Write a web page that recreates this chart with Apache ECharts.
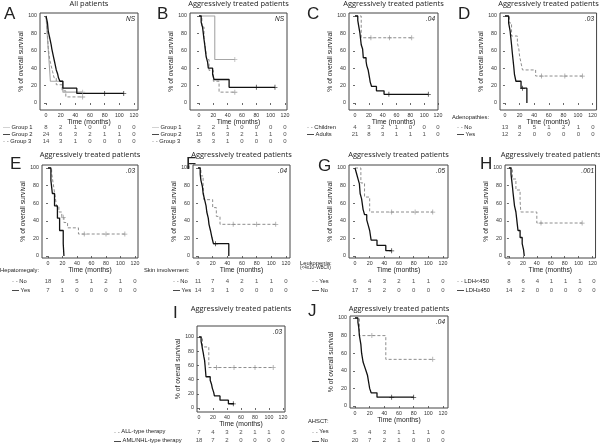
<!DOCTYPE html>
<html><head><meta charset="utf-8">
<script src="https://cdn.jsdelivr.net/npm/echarts@6/dist/echarts.min.js"></script>
<style>html,body{margin:0;padding:0;background:#fff}#c{width:600px;height:445px}</style>
</head><body><div id="c"></div>
<script>
const xTicks=[0,20,40,60,80,100,120];
const yTicks=[0,20,40,60,80,100];
const riskTimes=[0,20,40,60,80,100,120];

// Panel A – all patients
const A_group1=[[0,100],[1,87.5],[2,75],[3,62.5],[4,50],[5,37.5],[6,25],[23,12.5],[50,12.5]];
const A_group1_cens=[[50,12.5]];
const A_group1_risk=[8,2,1,0,0,0,0];
const A_group2=[[0,100],[1,96],[2,92],[3,83],[4,79],[5,75],[6,71],[7,67],[8,62],[9,58],[10,54],[11,50],[12,46],[13,42],[14,38],[16,33],[17,29],[19,25],[23,17],[42,11],[106,11]];
const A_group2_cens=[[80,11],[106,11]];
const A_group2_risk=[24,6,3,2,1,1,0];
const A_group3=[[0,100],[1,93],[2,79],[3,64],[4,57],[5,50],[7,43],[9,36],[11,29],[14,21],[22,14],[27,7],[50,7]];
const A_group3_cens=[[50,7]];
const A_group3_risk=[14,3,1,0,0,0,0];
// Panel B
const B_group1=[[0,100],[22,50],[50,50]];
const B_group1_cens=[[50,50]];
const B_group1_risk=[2,2,1,0,0,0,0];
const B_group2=[[0,100],[3,93],[5,87],[6,80],[7,73],[8,67],[9,60],[10,53],[12,47],[13,40],[19,33],[21,27],[42,18],[106,18]];
const B_group2_cens=[[80,18],[106,18]];
const B_group2_risk=[15,6,3,2,1,1,0];
const B_group3=[[0,100],[4,87.5],[7,75],[9,62.5],[11,50],[14,37.5],[20,25],[28,12.5],[50,12.5]];
const B_group3_cens=[[50,12.5]];
const B_group3_risk=[8,3,1,0,0,0,0];
// Panel C
const C_children=[[0,100],[9,75],[82,75]];
const C_children_cens=[[23,75],[50,75],[82,75]];
const C_children_risk=[4,3,2,1,0,0,0];
const C_adults=[[0,100],[4,95],[5,90],[7,81],[9,67],[11,62],[12,52],[16,48],[17,43],[19,38],[21,29],[22,24],[24,19],[31,14],[42,10],[106,10]];
const C_adults_cens=[[49,10],[106,10]];
const C_adults_risk=[21,8,3,1,1,1,0];
// Panel D
const D_no=[[0,100],[6,92],[9,77],[17,69],[19,62],[20,54],[22,46],[24,38],[42,31],[106,31]];
const D_no_cens=[[50,31],[82,31],[106,31]];
const D_no_risk=[13,8,5,1,2,1,0];
const D_yes=[[0,100],[5,92],[7,83],[8,75],[9,67],[10,58],[11,50],[12,42],[13,33],[15,25],[22,17],[30,0]];
const D_yes_cens=[[24,17]];
const D_yes_risk=[12,2,0,0,0,0,0];
// Panel E
const E_no=[[0,100],[5,94],[6,89],[7,83],[8,78],[9,72],[10,67],[11,61],[12,56],[15,50],[19,44],[22,38],[27,32],[42,25],[106,25]];
const E_no_cens=[[21,44],[50,25],[80,25],[106,25]];
const E_no_risk=[18,9,5,1,2,1,0];
const E_yes=[[0,100],[4,86],[6,71],[9,57],[13,43],[16,29],[21,14],[22,0]];
const E_yes_cens=[];
const E_yes_risk=[7,1,0,0,0,0,0];
// Panel F
const F_no=[[0,100],[4,91],[7,82],[8,64],[20,55],[25,45],[30,36],[106,36]];
const F_no_cens=[[48,36],[80,36],[106,36]];
const F_no_risk=[11,7,4,2,1,1,0];
const F_yes=[[0,100],[3,93],[4,86],[6,79],[7,71],[9,64],[11,57],[12,50],[14,43],[15,36],[17,29],[19,21],[21,14],[42,0]];
const F_yes_cens=[[24,14]];
const F_yes_risk=[14,3,1,0,0,0,0];
// Panel G
const G_yes=[[0,100],[8,83],[13,67],[20,50],[106,50]];
const G_yes_cens=[[50,50],[82,50],[106,50]];
const G_yes_risk=[6,4,3,2,1,1,0];
const G_no=[[0,100],[2,94],[4,88],[6,82],[7,71],[9,65],[10,59],[11,53],[13,47],[16,41],[18,35],[20,29],[22,18],[30,12],[42,6],[50,6]];
const G_no_cens=[[50,6]];
const G_no_risk=[17,5,2,0,0,0,0];
// Panel H
const H_low=[[0,100],[5,87.5],[10,75],[16,62.5],[17,50],[40,37.5],[105,37.5]];
const H_low_cens=[[46,37.5],[105,37.5]];
const H_low_risk=[8,6,4,1,1,1,0];
const H_high=[[0,100],[3,93],[4,86],[5,79],[6,71],[7,64],[8,57],[10,50],[11,43],[12,36],[13,29],[16,21],[19,14],[21,7],[22,0]];
const H_high_cens=[];
const H_high_risk=[14,2,0,0,0,0,0];
// Panel I
const I_all=[[0,100],[5,86],[14,57],[106,57]];
const I_all_cens=[[25,57],[50,57],[80,57],[106,57]];
const I_all_risk=[7,4,3,2,1,1,0];
const I_aml=[[0,100],[3,94],[4,89],[5,83],[6,78],[7,72],[8,67],[9,56],[10,44],[16,39],[18,33],[19,28],[21,22],[22,17],[30,11],[42,6],[50,6]];
const I_aml_cens=[[49,6]];
const I_aml_risk=[18,7,2,0,0,0,0];
// Panel J
const J_yes=[[0,100],[6,80],[42,53],[106,53]];
const J_yes_cens=[[23,80],[106,53]];
const J_yes_risk=[5,4,3,1,1,1,0];
const J_no=[[0,100],[4,95],[5,90],[6,80],[8,70],[9,60],[11,50],[13,45],[15,40],[17,35],[18,30],[19,25],[20,20],[22,15],[30,10],[80,10]];
const J_no_cens=[[50,10],[80,10]];
const J_no_risk=[20,7,2,1,0,0,0];

const AGG='Aggressively treated patients';
const panels=[
 {letter:'A',lx:4,ly:6,title:'All patients',p:'NS',box:[40,13,138,110],x0:46,x120:134,y100:16,y0:103,rows:[127,134,141],labelX:3,
  groups:[{label:'Group 1',st:'g',c:A_group1,z:A_group1_cens,r:A_group1_risk},{label:'Group 2',st:'k',c:A_group2,z:A_group2_cens,r:A_group2_risk},{label:'Group 3',st:'d',c:A_group3,z:A_group3_cens,r:A_group3_risk}]},
 {letter:'B',lx:157,ly:6,title:AGG,p:'NS',box:[190,13,287,110],x0:199,x120:285,y100:16,y0:103,rows:[127,134,141],labelX:152,
  groups:[{label:'Group 1',st:'g',c:B_group1,z:B_group1_cens,r:B_group1_risk},{label:'Group 2',st:'k',c:B_group2,z:B_group2_cens,r:B_group2_risk},{label:'Group 3',st:'d',c:B_group3,z:B_group3_cens,r:B_group3_risk}]},
 {letter:'C',lx:307,ly:6,title:AGG,p:'.04',box:[349,13,438,110],x0:355,x120:438,y100:16,y0:103,rows:[127,134],labelX:307,
  groups:[{label:'Children',st:'d',c:C_children,z:C_children_cens,r:C_children_risk},{label:'Adults',st:'k',c:C_adults,z:C_adults_cens,r:C_adults_risk}]},
 {letter:'D',lx:458,ly:6,title:AGG,p:'.03',box:[500,13,597,110],x0:505,x120:593,y100:16,y0:103,rows:[127,134],labelX:457,header:['Adenopathies:',452,117],
  groups:[{label:'No',st:'d',c:D_no,z:D_no_cens,r:D_no_risk},{label:'Yes',st:'k',c:D_yes,z:D_yes_cens,r:D_yes_risk}]},
 {letter:'E',lx:10,ly:156,title:AGG,p:'.03',box:[42,165,138,258],x0:48,x120:135,y100:168,y0:256,rows:[281,290],labelX:12,header:['Hepatomegaly:',0,270],
  groups:[{label:'No',st:'d',c:E_no,z:E_no_cens,r:E_no_risk},{label:'Yes',st:'k',c:E_yes,z:E_yes_cens,r:E_yes_risk}]},
 {letter:'F',lx:186,ly:156,title:AGG,p:'.04',box:[193,165,290,258],x0:198,x120:286,y100:168,y0:256,rows:[281,290],labelX:173,header:['Skin involvement:',144,270],
  groups:[{label:'No',st:'d',c:F_no,z:F_no_cens,r:F_no_risk},{label:'Yes',st:'k',c:F_yes,z:F_yes_cens,r:F_yes_risk}]},
 {letter:'G',lx:318,ly:158,title:AGG,p:'.05',box:[349,165,448,258],x0:355,x120:443,y100:168,y0:256,rows:[281,290],labelX:312,header:['Leukopenia:',300,263],sub:['(<4x10⁹WBC/l)',300,268],
  groups:[{label:'Yes',st:'d',c:G_yes,z:G_yes_cens,r:G_yes_risk},{label:'No',st:'k',c:G_no,z:G_no_cens,r:G_no_risk}]},
 {letter:'H',lx:480,ly:156,title:AGG,p:'.001',box:[505,165,597,258],x0:509,x120:594,y100:168,y0:256,rows:[281,290],labelX:457,
  groups:[{label:'LDH<450',st:'d',c:H_low,z:H_low_cens,r:H_low_risk},{label:'LDH≥450',st:'k',c:H_high,z:H_high_cens,r:H_high_risk}]},
 {letter:'I',lx:173,ly:305,title:AGG,p:'.03',box:[197,326,285,412],x0:199,x120:283,y100:337,y0:408,rows:[432,441],labelX:114,
  groups:[{label:'ALL-type therapy',st:'d',c:I_all,z:I_all_cens,r:I_all_risk},{label:'AML/NHL-type therapy',st:'k',c:I_aml,z:I_aml_cens,r:I_aml_risk}]},
 {letter:'J',lx:308,ly:303,title:AGG,p:'.04',box:[350,316,448,408],x0:355,x120:443,y100:318,y0:406,rows:[432,441],labelX:312,header:['AHSCT:',308,421],
  groups:[{label:'Yes',st:'d',c:J_yes,z:J_yes_cens,r:J_yes_risk},{label:'No',st:'k',c:J_no,z:J_no_cens,r:J_no_risk}]}
];

const STY={
 g:{color:'#a6a6a6',width:1.1,type:'solid'},
 k:{color:'#111111',width:1.3,type:'solid'},
 d:{color:'#8e8e8e',width:1,type:[3,2]}
};
const FONT='Liberation Sans';
const plus='path://M0,2.2h5v0.8h-5z M2.1,0h0.8v5h-0.8z';

const grid=[],xAxis=[],yAxis=[],series=[],graphic=[];
panels.forEach((P,i)=>{
  const [l,t,r,b]=P.box;
  const ppx=(P.x120-P.x0)/120, ppy=(P.y0-P.y100)/100;
  const xmin=(l-P.x0)/ppx, xmax=120+(r-P.x120)/ppx;
  const ymin=-(b-P.y0)/ppy, ymax=100+(P.y100-t)/ppy;
  grid.push({left:l,top:t,width:r-l,height:b-t,show:true,borderColor:'#444',borderWidth:1,backgroundColor:'#fff'});
  xAxis.push({type:'value',gridIndex:i,min:xmin,max:xmax,axisLine:{show:false},splitLine:{show:false},
    axisTick:{show:true,length:2,customValues:xTicks,lineStyle:{color:'#444',width:0.8}},
    axisLabel:{customValues:xTicks,fontSize:5.3,margin:3,color:'#333',fontFamily:FONT},
    name:'Time (months)',nameLocation:'middle',nameGap:9,nameTextStyle:{fontSize:6.8,color:'#222',fontFamily:FONT}});
  yAxis.push({type:'value',gridIndex:i,min:ymin,max:ymax,axisLine:{show:false},splitLine:{show:false},
    axisTick:{show:true,length:2,customValues:yTicks,lineStyle:{color:'#444',width:0.8}},
    axisLabel:{customValues:yTicks,fontSize:5.3,margin:3,color:'#333',fontFamily:FONT},
    name:'% of overall survival',nameLocation:'middle',nameGap:11,nameRotate:90,nameTextStyle:{fontSize:6.8,color:'#222',fontFamily:FONT}});
  P.groups.forEach(G=>{
    const s=STY[G.st];
    series.push({type:'line',step:'end',xAxisIndex:i,yAxisIndex:i,data:G.c,showSymbol:false,symbol:'none',
      lineStyle:{color:s.color,width:s.width,type:s.type},z:G.st==='k'?4:3,silent:true,animation:false});
    if(G.z.length) series.push({type:'scatter',xAxisIndex:i,yAxisIndex:i,data:G.z,symbol:plus,symbolSize:5,
      itemStyle:{color:s.color},z:5,silent:true,animation:false});
  });
  graphic.push({type:'text',left:P.lx,top:P.ly,style:{text:P.letter,fontSize:17,fontFamily:'Liberation Sans Narrow, '+FONT,fill:'#222'}});
  graphic.push({type:'text',x:(l+r)/2,y:(i<4?4:(i<8?155:309)),style:{text:P.title,fontSize:7.5,fontFamily:'Open Sans',fill:'#222',align:'center',verticalAlign:'middle'}});
  graphic.push({type:'text',x:r-3,y:t+6,style:{text:P.p,fontSize:6.5,fontStyle:'italic',fontFamily:FONT,fill:'#222',align:'right',verticalAlign:'middle'}});
  if(P.header) graphic.push({type:'text',x:P.header[1],y:P.header[2],style:{text:P.header[0],fontSize:5.8,fontFamily:FONT,fill:'#222',verticalAlign:'middle'}});
  if(P.sub) graphic.push({type:'text',x:P.sub[1],y:P.sub[2],style:{text:P.sub[0],fontSize:4.6,fontFamily:FONT,fill:'#222',verticalAlign:'middle'}});
});
// risk tables
panels.forEach((P,i)=>{
  const [l,t,r,b]=P.box;
  const ppx=(P.x120-P.x0)/120;
  const xmin=(l-P.x0)/ppx, xmax=120+(r-P.x120)/ppx;
  const n=P.rows.length, sp=P.rows[1]-P.rows[0];
  const gi=panels.length+i;
  grid.push({left:l,width:r-l,top:P.rows[0]-sp/2,height:sp*n,show:false});
  xAxis.push({type:'value',gridIndex:gi,min:xmin,max:xmax,show:false});
  yAxis.push({type:'category',gridIndex:gi,inverse:true,data:P.groups.map(G=>G.label),
    axisLine:{show:false},axisTick:{show:false},splitLine:{show:false},
    axisLabel:{interval:0,hideOverlap:false,align:'left',margin:l-P.labelX,fontSize:5.8,color:'#222',fontFamily:FONT,
      formatter:(v,idx)=>{const st=P.groups[idx].st;return (st==='d'?'{d|- -}':'{'+st+'|—}')+' '+v;},
      rich:{d:{color:'#999',fontSize:6,fontWeight:'bold'},g:{color:'#aaa',fontSize:7},k:{color:'#000',fontSize:7,fontWeight:'bold'}}}});
  P.groups.forEach((G,k)=>{
    series.push({type:'scatter',xAxisIndex:gi,yAxisIndex:gi,symbolSize:1,itemStyle:{color:'rgba(0,0,0,0)'},silent:true,animation:false,
      data:G.r.map((v,j)=>[riskTimes[j],k,v]),
      label:{show:true,position:'inside',formatter:p=>String(p.value[2]),fontSize:6,color:'#222',fontFamily:FONT}});
  });
});

const chart=echarts.init(document.getElementById('c'),null,{renderer:'canvas'});
chart.setOption({animation:false,backgroundColor:'#fff',grid,xAxis,yAxis,series,graphic});
</script></body></html>
